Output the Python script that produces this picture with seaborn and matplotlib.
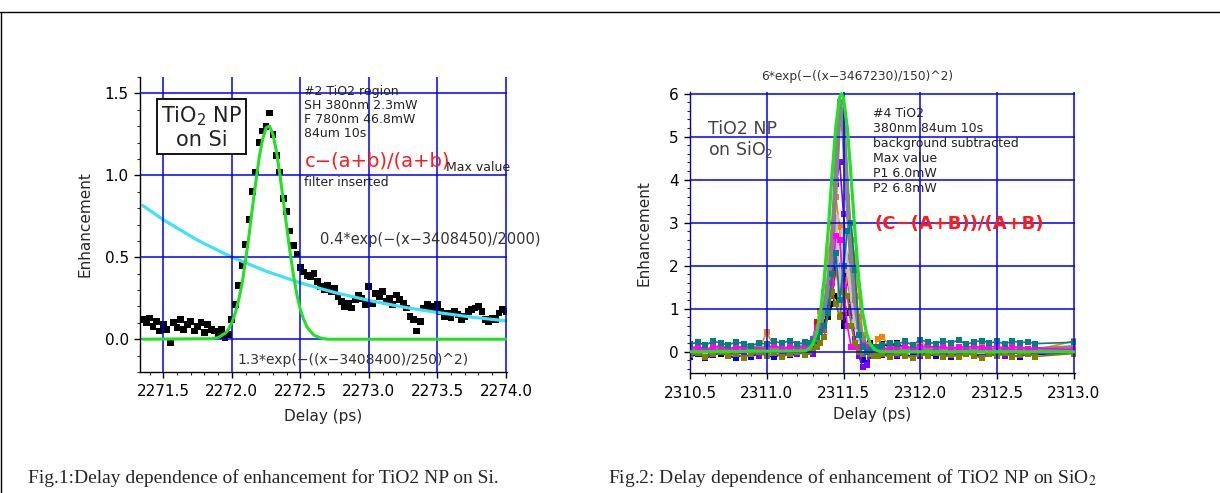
import matplotlib
matplotlib.use('Agg')
import matplotlib.pyplot as plt
from matplotlib.lines import Line2D
from matplotlib.ticker import MultipleLocator, FormatStrFormatter
import seaborn as sns
import numpy as np

# ---- Fig.1 : TiO2 NP on Si ----
si_delay = np.round(np.arange(2271.35, 2274.0 + 1e-9, 0.025), 3)
si_enh = [0.12, 0.10, 0.13, 0.08, 0.11, 0.05, 0.09, 0.06, -0.02, 0.10,
          0.07, 0.12, 0.06, 0.09, 0.11, 0.05, 0.08, 0.10, 0.04, 0.09,
          0.06, 0.05, 0.02, 0.06, 0.01, 0.03,
          0.12, 0.21, 0.33, 0.45, 0.58, 0.73, 0.90, 1.02, 1.20, 1.27,
          1.30, 1.38, 1.25, 1.12, 1.02, 0.86, 0.78, 0.66, 0.57, 0.52,
          0.44, 0.41, 0.39, 0.38, 0.40, 0.35, 0.32, 0.30, 0.33, 0.29,
          0.31, 0.26, 0.23, 0.20, 0.22, 0.19, 0.24, 0.27, 0.25, 0.21,
          0.32, 0.22, 0.28, 0.26, 0.29, 0.23, 0.25, 0.21, 0.27, 0.24,
          0.22, 0.19, 0.14, 0.12, 0.05, 0.11, 0.19, 0.21, 0.20, 0.19,
          0.21, 0.17, 0.14, 0.16, 0.13, 0.17, 0.15, 0.12, 0.14, 0.17,
          0.18, 0.19, 0.20, 0.17, 0.12, 0.11, 0.13, 0.12, 0.16, 0.18, 0.17]

# green gaussian fit
si_gauss_delay = [2271.35, 2271.85, 2271.90, 2271.95, 2271.975, 2272.0, 2272.025,
                  2272.05, 2272.075, 2272.10, 2272.125, 2272.15, 2272.175, 2272.20,
                  2272.225, 2272.25, 2272.275, 2272.30, 2272.325, 2272.35, 2272.375,
                  2272.40, 2272.425, 2272.45, 2272.475, 2272.50, 2272.525, 2272.55,
                  2272.60, 2272.65, 2272.70, 2274.0]
si_gauss = [0, 0.003, 0.01, 0.035, 0.06, 0.10, 0.16, 0.24, 0.34, 0.48, 0.63, 0.80,
            0.96, 1.11, 1.22, 1.29, 1.30, 1.25, 1.15, 1.01, 0.85, 0.69, 0.53, 0.39,
            0.27, 0.18, 0.12, 0.072, 0.024, 0.007, 0, 0]

# cyan exponential decay
si_exp_delay = [2271.35, 2271.5, 2271.75, 2272.0, 2272.25, 2272.5, 2272.75,
                2273.0, 2273.25, 2273.5, 2273.75, 2274.0]
si_exp = [0.816, 0.729, 0.604, 0.501, 0.415, 0.344, 0.285, 0.237, 0.196,
          0.163, 0.135, 0.112]

# ---- Fig.2 : TiO2 NP on SiO2 ----
sio2_delay = np.round(np.concatenate([np.arange(2310.50, 2311.25 + 1e-9, 0.05),
                                      np.arange(2311.275, 2311.725 + 1e-9, 0.025),
                                      np.arange(2311.75, 2312.75 + 1e-9, 0.05),
                                      [2313.0]]), 3)

run_red = [-0.05, 0.02, -0.08, 0.04, -0.02, 0.05, -0.06, 0.01, 0.03, -0.04, 0.06, 0.00, -0.03, 0.04, 0.02, 0.08,
           0.05, 0.30, 0.70, 0.95, 1.20, 1.50, 1.30, 1.90, 1.40, 0.70, 1.70, 1.20, 0.60, 0.80, 0.20, 0.00, -0.05, 0.00, 0.02,
           0.05, 0.02, -0.03, 0.04, 0.00, -0.05, 0.03, 0.01, -0.02, 0.05, 0.00, -0.04, 0.02, 0.04, -0.01, 0.03, -0.06, 0.02, 0.00, 0.03, -0.05,
           0.02]
run_blue = [-0.12, -0.05, -0.15, -0.08, -0.02, -0.10, -0.14, -0.06, -0.11, -0.03, -0.09, -0.13, -0.04, -0.08, -0.05, -0.02,
            0.00, 0.20, 0.45, 0.70, 0.90, 1.10, 1.60, 2.20, 2.00, 1.40, 1.80, 2.10, 0.90, 0.40, -0.20, -0.25, -0.10, -0.05, -0.05,
            -0.08, -0.03, -0.10, -0.05, -0.12, -0.02, -0.07, -0.09, -0.04, -0.11, -0.06, -0.03, -0.08, -0.10, -0.05, -0.07, -0.02, -0.09, -0.12, -0.04, -0.06,
            -0.03]
run_black = [0.02, -0.03, 0.04, 0.00, -0.05, 0.03, 0.01, -0.02, 0.05, -0.04, 0.02, 0.06, -0.01, 0.03, 0.00, 0.04,
             0.00, 0.10, 0.30, 0.50, 0.70, 0.80, 1.10, 1.30, 1.00, 0.60, 0.90, 1.05, 1.10, 0.50, 0.10, 0.15, 0.20, 0.10, 0.05,
             0.18, 0.12, 0.20, 0.08, 0.05, 0.03, -0.02, 0.04, 0.01, 0.06, -0.03, 0.02, 0.05, 0.00, 0.03, -0.01, 0.04, 0.02, 0.06, 0.01, 0.03,
             0.08]
run_orange = [0.05, 0.10, 0.02, 0.08, 0.12, 0.04, 0.07, 0.03, 0.09, 0.06, 0.45, 0.10, 0.05, 0.08, 0.11, 0.06,
              0.10, 0.20, 0.35, 0.90, 1.40, 2.20, 3.00, 3.60, 2.90, 1.00, 1.90, 2.60, 2.20, 1.30, 0.40, 0.15, 0.05, 0.10, 0.30,
              0.35, 0.15, 0.08, 0.12, 0.05, 0.25, 0.10, 0.06, 0.09, 0.04, 0.11, 0.07, 0.05, 0.10, 0.08, 0.03, 0.06, 0.09, 0.05, 0.07, 0.04,
              0.25]
run_purple = [-0.06, 0.02, -0.10, -0.03, 0.04, -0.08, 0.00, -0.05, 0.03, -0.09, -0.02, 0.05, -0.07, 0.01, -0.04, 0.02,
              0.00, -0.05, 0.20, 0.50, 0.90, 1.60, 2.60, 3.90, 4.40, 3.20, 2.00, 0.90, 0.30, -0.10, -0.35, -0.30, -0.10, 0.00, 0.02,
              -0.05, 0.02, -0.08, -0.03, 0.01, -0.10, -0.04, 0.03, -0.07, -0.02, -0.09, 0.00, -0.05, -0.08, 0.02, -0.03, -0.10, -0.01, -0.06, 0.01, -0.04,
              -0.02]
run_magenta = [0.08, 0.12, 0.05, 0.10, 0.14, 0.06, 0.11, 0.09, 0.13, 0.04, 0.10, 0.15, 0.07, 0.12, 0.09, 0.14,
               0.15, 0.30, 0.55, 0.60, 0.50, 0.90, 1.60, 2.70, 2.60, 1.50, 0.60, 0.12, 0.10, 0.10, 0.15, 0.10, 0.08, 0.10, 0.12,
               0.10, 0.06, 0.12, 0.14, 0.08, 0.11, 0.15, 0.09, 0.13, 0.06, 0.12, 0.10, 0.14, 0.08, 0.11, 0.13, 0.07, 0.10, 0.12, 0.06, 0.09,
               0.05]
run_lgray = [0.04, 0.08, 0.02, 0.06, 0.10, 0.03, 0.07, 0.05, 0.09, 0.01, 0.06, 0.08, 0.04, 0.07, 0.10, 0.12,
             0.20, 0.30, 0.50, 0.80, 1.20, 1.80, 2.60, 3.10, 1.00, 2.80, 2.00, 1.30, 0.70, 0.30, 0.10, 0.05, 0.00, 0.03, 0.05,
             0.06, 0.03, 0.07, 0.04, 0.08, 0.02, 0.05, 0.06, 0.03, 0.07, 0.04, 0.05, 0.08, 0.02, 0.06, 0.04, 0.07, 0.03, 0.05, 0.06, 0.04,
             0.06]
run_gray = [0.05, 0.08, 0.03, 0.06, 0.10, 0.04, 0.07, 0.09, 0.05, 0.11, 0.06, 0.08, 0.04, 0.07, 0.10, 0.12,
            0.10, 0.20, 0.35, 0.60, 1.00, 1.50, 2.40, 4.00, 5.80, 5.20, 3.60, 2.20, 1.20, 0.60, 0.30, 0.10, 0.00, 0.02, 0.03,
            0.05, 0.04, 0.06, 0.03, 0.05, 0.07, 0.04, 0.06, 0.05, 0.03, 0.06, 0.04, 0.05, 0.07, 0.04, 0.05, 0.06, 0.04, 0.05, 0.03, 0.05,
            0.10]
run_olive = [-0.08, -0.02, -0.12, -0.05, 0.00, -0.10, -0.04, -0.14, -0.06, -0.01, -0.09, -0.03, -0.11, -0.05, 0.00, -0.07,
             0.00, 0.05, 0.10, 0.20, 0.35, 0.90, 1.40, 1.10, 0.80, 1.40, 1.30, 0.60, 0.20, 0.00, -0.05, 0.00, -0.05, -0.10, -0.10,
             -0.06, -0.12, -0.03, -0.09, -0.14, -0.05, -0.10, -0.02, -0.13, -0.07, -0.11, -0.04, -0.09, -0.15, -0.06, -0.10, -0.03, -0.12, -0.08, -0.05, -0.11,
             -0.04]
run_teal = [0.18, 0.22, 0.15, 0.25, 0.20, 0.16, 0.23, 0.19, 0.14, 0.21, 0.17, 0.24, 0.20, 0.26, 0.18, 0.22,
            0.20, 0.25, 0.35, 0.45, 0.60, 0.90, 1.80, 2.30, 1.20, 2.00, 2.80, 3.00, 1.90, 0.40, 0.10, 0.00, 0.05, 0.10, 0.12,
            0.15, 0.20, 0.18, 0.24, 0.16, 0.28, 0.22, 0.19, 0.25, 0.21, 0.27, 0.17, 0.23, 0.26, 0.20, 0.24, 0.18, 0.25, 0.21, 0.23, 0.19,
            0.22]

sio2_gauss_delay = [2310.5, 2311.25, 2311.275, 2311.30, 2311.325, 2311.35, 2311.375,
                    2311.40, 2311.425, 2311.45, 2311.475, 2311.4875, 2311.50, 2311.525,
                    2311.55, 2311.575, 2311.60, 2311.625, 2311.65, 2311.675, 2311.70,
                    2311.725, 2311.75, 2313.0]
sio2_gauss = [0, 0.02, 0.07, 0.18, 0.44, 0.92, 1.72, 2.81, 4.09, 5.23, 5.91, 6.0,
              5.90, 5.20, 4.03, 2.77, 1.67, 0.90, 0.42, 0.18, 0.06, 0.02, 0, 0]

# drawing order / colours for the runs
runs = [(run_red, '#ff0000', 1.2), (run_blue, '#0000ff', 1.2),
        (run_black, '#000000', 1.2), (run_orange, '#ff8000', 1.2),
        (run_purple, '#8000ff', 1.2),
        (run_lgray, '#c4c4c4', 2.5), (run_gray, '#858585', 3.5),
        (run_magenta, '#ff00ff', 1.2),
        (run_olive, '#808000', 1.2), (run_teal, '#008080', 1.2)]

sns.set_theme(style='ticks')
plt.rcParams['font.family'] = ['DejaVu Sans']
plt.rcParams['axes.edgecolor'] = 'black'
plt.rcParams['axes.linewidth'] = 1.0

fig = plt.figure(figsize=(12.2, 4.93), dpi=100)
fig.patch.set_facecolor('white')

ax1 = fig.add_axes([140 / 1220, 1 - 372 / 493, 367 / 1220, 295 / 493])
ax2 = fig.add_axes([690 / 1220, 1 - 373.3 / 493, 385 / 1220, 281 / 493])

# ---------------- left plot ----------------
sns.scatterplot(x=si_delay, y=si_enh, ax=ax1, marker='s', s=24,
                color='black', edgecolor='none', zorder=2)
sns.lineplot(x=si_exp_delay, y=si_exp, ax=ax1, color='#3fe2f7', lw=2.3, zorder=2)
sns.lineplot(x=si_gauss_delay, y=si_gauss, ax=ax1, color='#22e022', lw=2.2, zorder=3)

ax1.set_xlim(2271.33, 2274.008)
ax1.set_ylim(-0.2, 1.6)
ax1.xaxis.set_major_locator(MultipleLocator(0.5))
ax1.xaxis.set_minor_locator(MultipleLocator(0.1))
ax1.yaxis.set_major_locator(MultipleLocator(0.5))
ax1.yaxis.set_minor_locator(MultipleLocator(0.1))
ax1.xaxis.set_major_formatter(FormatStrFormatter('%.1f'))
ax1.yaxis.set_major_formatter(FormatStrFormatter('%.1f'))
ax1.set_xlabel('Delay (ps)', fontsize=11)
ax1.set_ylabel('Enhancement', fontsize=11)
ax1.xaxis.set_label_coords(0.499, -0.125)
ax1.yaxis.set_label_coords(-0.13, 0.5)

ax1.text(2271.78, 1.293, 'TiO$_2$ NP\non Si', ha='center', va='center',
         fontsize=15, color='#222222', linespacing=1.15,
         bbox=dict(boxstyle='square,pad=0.18', fc='white', ec='black', lw=1.3))
ax1.text(2272.53, 1.553, '#2 TiO2 region\nSH 380nm 2.3mW\nF 780nm 46.8mW\n84um 10s',
         ha='left', va='top', fontsize=9, color='#222222', linespacing=1.1)
ax1.text(2272.53, 1.09, 'c\u2212(a+b)/(a+b)', ha='left', va='center',
         fontsize=14, color='#ff1a1a')
ax1.text(2273.56, 1.05, 'Max value', ha='left', va='center', fontsize=9, color='#222222')
ax1.text(2272.53, 0.955, 'filter inserted', ha='left', va='center', fontsize=9, color='#222222')
ax1.text(2272.64, 0.61, '0.4*exp(\u2212(x\u22123408450)/2000)', ha='left', va='center',
         fontsize=10.5, color='#333333')
ax1.text(2272.04, -0.125, '1.3*exp(\u2212((x\u22123408400)/250)^2)', ha='left', va='center',
         fontsize=10, color='#333333')

# ---------------- right plot ----------------
for vals, col, lw in runs:
    sns.lineplot(x=sio2_delay, y=vals, ax=ax2, color=col, lw=lw, marker='s',
                 markersize=4.3, markeredgewidth=0, zorder=2)
sns.lineplot(x=sio2_gauss_delay, y=sio2_gauss, ax=ax2, color='#22e022', lw=2.3, zorder=3)

ax2.set_xlim(2310.5, 2313.008)
ax2.set_ylim(-0.5, 6.03)
ax2.xaxis.set_major_locator(MultipleLocator(0.5))
ax2.xaxis.set_minor_locator(MultipleLocator(0.1))
ax2.yaxis.set_major_locator(MultipleLocator(1))
ax2.yaxis.set_minor_locator(MultipleLocator(0.2))
ax2.xaxis.set_major_formatter(FormatStrFormatter('%.1f'))
ax2.yaxis.set_major_formatter(FormatStrFormatter('%d'))
ax2.set_xlabel('Delay (ps)', fontsize=11)
ax2.set_ylabel('Enhancement', fontsize=11)
ax2.xaxis.set_label_coords(0.472, -0.12)
ax2.yaxis.set_label_coords(-0.1, 0.5)

ax2.text(2311.59, 6.40, '6*exp(\u2212((x\u22123467230)/150)^2)', ha='center', va='center',
         fontsize=8.8, color='#333333')
ax2.text(2310.62, 5.06, 'TiO2 NP', ha='left', va='baseline', fontsize=12.5, color='#444444')
ax2.text(2310.62, 4.57, 'on SiO$_2$', ha='left', va='baseline', fontsize=12.5, color='#444444')
ax2.text(2311.69, 5.68, '#4 TiO2\n380nm 84um 10s\nbackground subtracted\nMax value\nP1 6.0mW\nP2 6.8mW',
         ha='left', va='top', fontsize=9, color='#222222', linespacing=1.2)
ax2.text(2311.70, 2.98, '(C\u2212(A+B))/(A+B)', ha='left', va='center',
         fontsize=13, color='#ff1a1a', fontweight='bold')

for ax in (ax1, ax2):
    sns.despine(ax=ax)
    ax.set_facecolor('white')
    ax.grid(True, which='major', color='#0000ff', lw=1.1)
    ax.set_axisbelow(False)
    ax.tick_params(which='major', direction='out', length=4, width=1,
                   labelsize=11, colors='black', pad=4)
    ax.tick_params(which='minor', direction='out', length=2.5, width=0.8)
    ax.tick_params(axis='x', pad=5)

# page frame and captions
fig.add_artist(Line2D([0, 1], [1 - 12 / 493, 1 - 12 / 493], color='black', lw=1))
fig.add_artist(Line2D([0.001, 0.001], [0, 1 - 12 / 493], color='black', lw=1))
fig.text(28 / 1220, 1 - 478 / 493, 'Fig.1:Delay dependence of enhancement for TiO2 NP on Si.',
         ha='left', va='center', fontsize=14, family='Liberation Serif')
fig.text(608 / 1220, 1 - 478 / 493, 'Fig.2: Delay dependence of enhancement of TiO2 NP on SiO$_2$',
         ha='left', va='center', fontsize=14, family='Liberation Serif', math_fontfamily='stix')

fig.savefig('out.png', dpi=100)
